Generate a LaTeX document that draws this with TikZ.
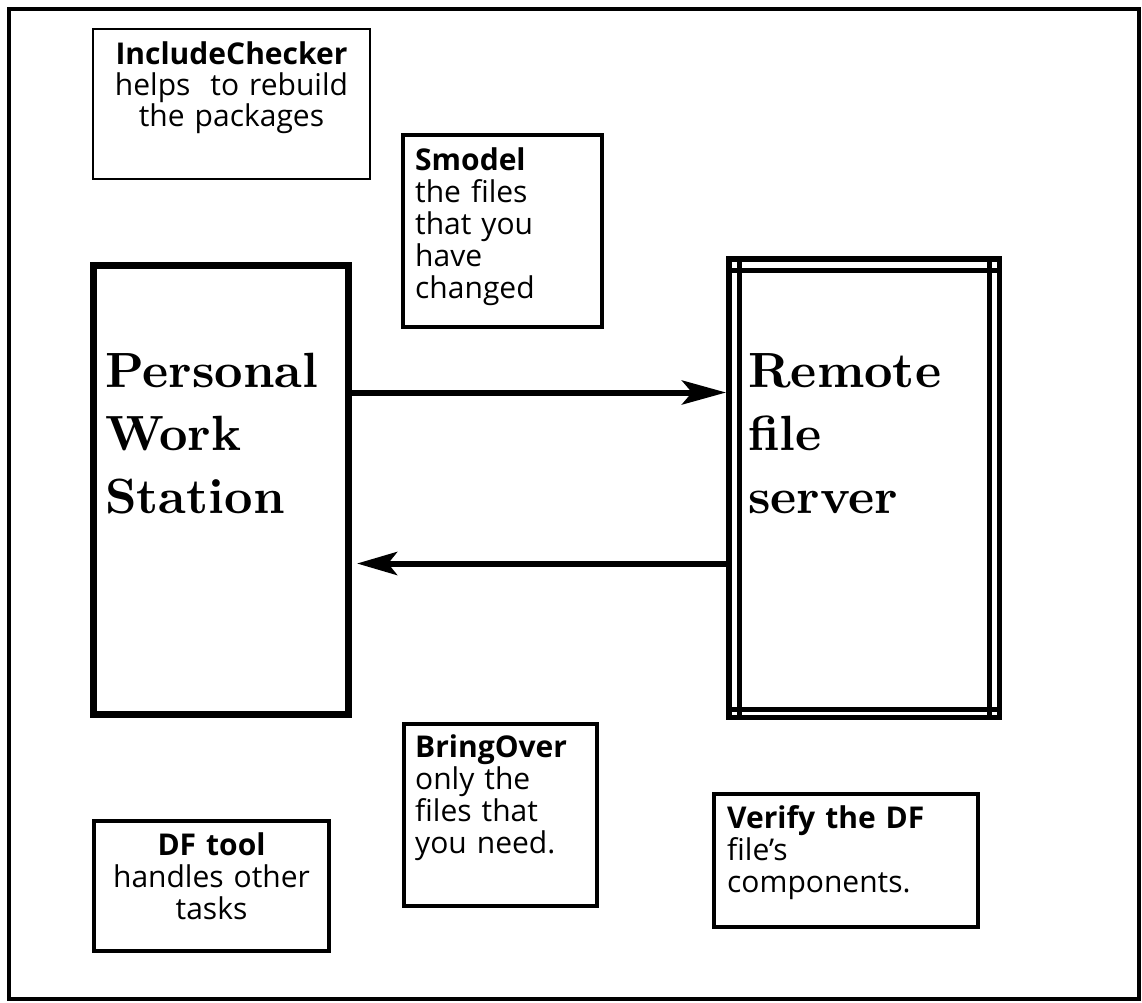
\documentclass[tikz,border=0pt]{standalone}
\usepackage{fontspec}
\newfontfamily\notefont{Open Sans}
\newfontfamily\titlefont{lmroman10-bold}[Extension=.otf]
\usetikzlibrary{arrows.meta,fit}

\tikzset{
  outerframe/.style={draw, line width=4.5pt},
  notebox/.style={draw, rectangle, inner sep=0pt, line width=4pt},
  thinbox/.style={notebox, line width=2.5pt},
  heavybox/.style={notebox, line width=7pt},
  serverbox/.style={notebox, line width=5.5pt},
  serverline/.style={line width=5pt},
  notetext/.style={inner sep=0pt, font=\notefont\fontsize{30}{32}\selectfont},
  titletext/.style={inner sep=0pt, align=left, text width=240pt, anchor=base west,
    font=\titlefont\fontsize{49.5}{63}\selectfont},
  flow/.style={line width=6pt, -{Stealth[length=44pt, width=24pt, inset=10pt]}},
}

\begin{document}
\begin{tikzpicture}[x=1pt, y=-1pt]
  \useasboundingbox (0,0) rectangle (1142,1002);
  \draw[outerframe] (9,9) rectangle (1139,999);

  % main machines
  \node[heavybox, fit={(93.5,265.5) (348.5,714.5)}] (pws) {};
  \node[serverbox, fit={(728.75,258.75) (999.25,717.25)}] (remote) {};
  \draw[serverline] ([xshift=13.5pt]remote.north west) -- ([xshift=13.5pt]remote.south west);
  \draw[serverline] ([xshift=-12.5pt]remote.north east) -- ([xshift=-12.5pt]remote.south east);
  \draw[serverline] ([yshift=-14.5pt]remote.north west) -- ([yshift=-14.5pt]remote.north east);
  \draw[serverline] ([yshift=10.5pt]remote.south west) -- ([yshift=10.5pt]remote.south east);

  \node[titletext] (pwstext) at (105,387) {Personal\\Work\\Station};
  \node[titletext] (remotetext) at (748,387) {Remote\\file\\server};

  % transfers between the machines
  \coordinate (outY) at (0,392.5);
  \coordinate (backY) at (0,563.5);
  \draw[flow] (pws.east |- outY) -- (remote.west |- outY);
  \draw[line width=6pt, -{Stealth[length=40pt, width=23pt, inset=9pt]}, shorten >=5pt]
    (remote.west |- backY) -- (pws.east |- backY);

  % tool notes
  \node[thinbox, fit={(93,29) (370,179)}] (incbox) {};
  \node[notetext, align=center, text width=270pt, anchor=base,
        font=\notefont\fontsize{30}{31}\selectfont] (inctext) at (231.5,64)
    {{\bfseries IncludeChecker}\\helps\ \ to rebuild\\the packages};

  \node[notebox, fit={(403,135) (602,327)}] (smodelbox) {};
  \node[notetext, align=left, text width=180pt, anchor=base west] (smodeltext) at (415,170)
    {{\bfseries Smodel}\\the files\\that you\\have\\changed};

  \node[notebox, fit={(404,724) (597,906)}] (bringbox) {};
  \node[notetext, align=left, text width=180pt, anchor=base west] (bringtext) at (415,757)
    {{\bfseries BringOver}\\only the\\files that\\you need.};

  \node[notebox, fit={(94,821) (329,951)}] (dfbox) {};
  \node[notetext, align=center, text width=230pt, anchor=base] (dftext) at (211.5,855)
    {{\bfseries DF tool}\\handles other\\tasks};

  \node[notebox, fit={(714,794) (978,927)}] (verifybox) {};
  \node[notetext, align=left, text width=250pt, anchor=base west] (verifytext) at (727,828)
    {{\bfseries Verify the DF}\\file’s\\components.};
\end{tikzpicture}
\end{document}
